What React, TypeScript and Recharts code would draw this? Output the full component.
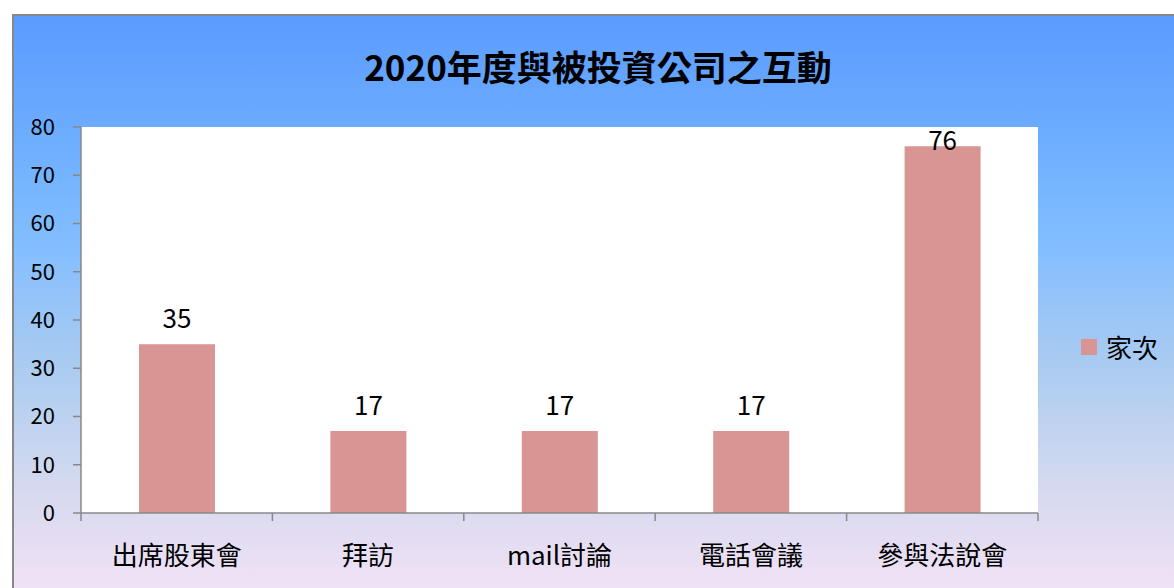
import { BarChart, Bar, XAxis, YAxis, CartesianGrid, Legend, LabelList } from "recharts";

const CATEGORIES = ["出席股東會", "拜訪", "mail討論", "電話會議", "參與法說會"];
const VISITS = [35, 17, 17, 17, 76];
const Y_TICKS = [0, 10, 20, 30, 40, 50, 60, 70, 80];
const SERIES_NAME = "家次";
const TITLE = "2020年度與被投資公司之互動";

const data = CATEGORIES.map((name, i) => ({ name, visits: VISITS[i] }));

const FONT = '"Noto Sans CJK TC", "Noto Sans", sans-serif';
const BAR_COLOR = "#d99594";
const AXIS_COLOR = "#888888";
const PLOT_TOP = 127;
const X_TICK_SIZE = 8;
const X_TICK_MARGIN = 26;

function ValueLabel(props: any) {
  const { x, y, width, value } = props;
  // Excel pushes the label inside when it would leave the plot area
  const baseline = Math.max(y - 16, PLOT_TOP + 23);
  return (
    <text x={x + width / 2} y={baseline} textAnchor="middle" fill="#000" fontSize={26} fontFamily={FONT}>
      {value}
    </text>
  );
}

// category label plus Excel-style tick marks between categories
function CategoryTick(props: any) {
  const { x, y, payload, index, visibleTicksCount } = props;
  const half = payload?.offset ?? 0;
  const y1 = y - X_TICK_MARGIN - X_TICK_SIZE;
  const y2 = y - X_TICK_MARGIN;
  return (
    <g>
      <line x1={x - half} x2={x - half} y1={y1} y2={y2} stroke={AXIS_COLOR} strokeWidth={1.5} />
      {index === visibleTicksCount - 1 && (
        <line x1={x + half} x2={x + half} y1={y1} y2={y2} stroke={AXIS_COLOR} strokeWidth={1.5} />
      )}
      <text x={x} y={y} dy="0.71em" textAnchor="middle" fill="#000" fontSize={26} fontFamily={FONT}>
        {payload.value}
      </text>
    </g>
  );
}

function LegendBox() {
  return (
    <div style={{ display: "flex", alignItems: "center", fontFamily: FONT, fontSize: 26, color: "#000" }}>
      <span style={{ width: 16, height: 16, background: BAR_COLOR, marginRight: 9, display: "inline-block" }} />
      <span>{SERIES_NAME}</span>
    </div>
  );
}

export default function App() {
  return (
    <div style={{ position: "fixed", left: 0, top: 0, width: 1174, height: 588, overflow: "hidden", background: "#fff" }}>
      <div
        style={{
          position: "absolute",
          left: 12,
          top: 14,
          width: 1200,
          height: 600,
          boxSizing: "border-box",
          border: "2px solid #888",
          background: "linear-gradient(180deg, #5b9bff 0%, #6eafff 22%, #82bdff 38%, #a9cbf1 58%, #cfd8ef 76%, #e4ddf2 88%, #f6e5f8 100%)",
        }}
      />
      <div
        style={{
          position: "absolute",
          left: 0,
          width: 1196,
          top: 42,
          textAlign: "center",
          fontFamily: FONT,
          fontWeight: 700,
          fontSize: 35,
          lineHeight: "48px",
          color: "#000",
        }}
      >
        {TITLE}
      </div>
      <div style={{ position: "absolute", left: 0, top: 0 }}>
        <BarChart width={1174} height={588} data={data} margin={{ top: PLOT_TOP, right: 136, bottom: 0, left: 0 }}>
          <CartesianGrid fill="#ffffff" horizontal={false} vertical={false} />
          <XAxis
            dataKey="name"
            height={75}
            axisLine={{ stroke: AXIS_COLOR, strokeWidth: 1.5 }}
            tickLine={false}
            tickSize={X_TICK_SIZE}
            tickMargin={X_TICK_MARGIN}
            tick={CategoryTick}
            interval={0}
          />
          <YAxis
            width={81}
            domain={[0, 80]}
            ticks={Y_TICKS}
            interval={0}
            tickSize={8}
            tickMargin={18}
            axisLine={{ stroke: AXIS_COLOR, strokeWidth: 1.5 }}
            tickLine={{ stroke: AXIS_COLOR, strokeWidth: 1.5 }}
            tick={{ fill: "#000", fontSize: 22, fontFamily: FONT }}
          />
          <Legend
            layout="vertical"
            align="center"
            verticalAlign="middle"
            wrapperStyle={{ left: 1081, top: 328, width: 90 }}
            content={() => <LegendBox />}
          />
          <Bar dataKey="visits" name={SERIES_NAME} fill={BAR_COLOR} barSize={76} isAnimationActive={false}>
            <LabelList dataKey="visits" content={ValueLabel} />
          </Bar>
        </BarChart>
      </div>
    </div>
  );
}
